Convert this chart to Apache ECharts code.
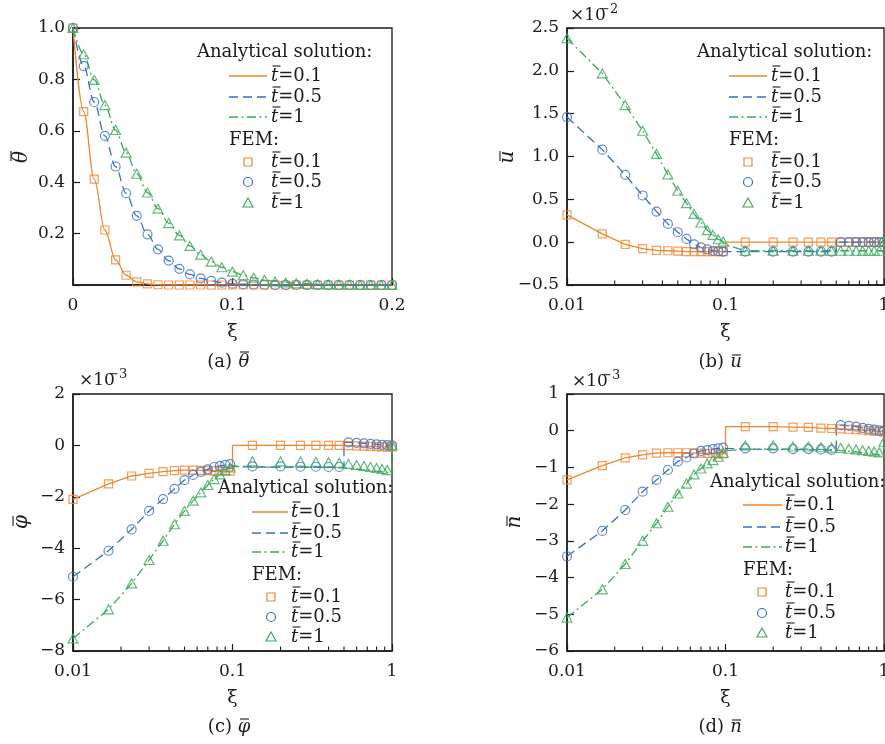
<!DOCTYPE html>
<html>
<head>
<meta charset="utf-8">
<script src="https://cdn.jsdelivr.net/npm/echarts@6/dist/echarts.min.js"></script>
<style>
  html, body { margin: 0; padding: 0; background: #fff; }
  #chart { width: 885px; height: 744px; }
</style>
</head>
<body>
<div id="chart"></div>
<script>
// ---------- (a) temperature theta vs xi (linear axis) ----------
const xiTheta = [0, 0.0067, 0.0133, 0.02, 0.0267, 0.0333, 0.04, 0.0467, 0.0533, 0.06, 0.0667,
  0.0733, 0.08, 0.0867, 0.0933, 0.1, 0.1067, 0.1133, 0.12, 0.1267, 0.1333,
  0.14, 0.1467, 0.1533, 0.16, 0.1667, 0.1733, 0.18, 0.1867, 0.1933, 0.2];
const thetaT01 = [1.0, 0.675, 0.412, 0.214, 0.098, 0.038, 0.012, 0.004, 0.001, 0, 0,
  0, 0, 0, 0, 0, 0, 0, 0, 0, 0,
  0, 0, 0, 0, 0, 0, 0, 0, 0, 0];
const thetaT05 = [1.0, 0.852, 0.712, 0.58, 0.461, 0.357, 0.269, 0.197, 0.139, 0.095, 0.063,
  0.041, 0.026, 0.016, 0.009, 0.005, 0.003, 0.002, 0.001, 0, 0,
  0, 0, 0, 0, 0, 0, 0, 0, 0, 0];
const thetaT1 = [1.0, 0.898, 0.798, 0.70, 0.603, 0.515, 0.433, 0.36, 0.297, 0.241, 0.193,
  0.152, 0.118, 0.091, 0.069, 0.052, 0.038, 0.028, 0.02, 0.014, 0.01,
  0.007, 0.005, 0.003, 0.002, 0.001, 0.001, 0, 0, 0, 0];

// ---------- xi grids for the log-axis panels ----------
const xiFem = [0.01, 0.0167, 0.0233, 0.03, 0.0367, 0.0433, 0.05, 0.0567, 0.0633, 0.07,
  0.0767, 0.0833, 0.09, 0.0967, 0.1333, 0.2, 0.2667, 0.3333, 0.4, 0.4667,
  0.5333, 0.6, 0.6667, 0.7333, 0.8, 0.8667, 0.9333, 1];
// analytical curves: t = 0.1 jumps at xi = 0.1, t = 0.5 at xi = 0.5, t = 1 at xi = 1
const xiLineT01 = [0.01, 0.0167, 0.0233, 0.03, 0.0367, 0.0433, 0.05, 0.0567, 0.0633, 0.07,
  0.0767, 0.0833, 0.09, 0.0967, 0.1, 0.1, 0.1333, 0.2, 0.2667, 0.3333,
  0.4, 0.4667, 0.5333, 0.6, 0.6667, 0.7333, 0.8, 0.8667, 0.9333, 1];
const xiLineT05 = [0.01, 0.0167, 0.0233, 0.03, 0.0367, 0.0433, 0.05, 0.0567, 0.0633, 0.07,
  0.0767, 0.0833, 0.09, 0.0967, 0.1, 0.1333, 0.2, 0.2667, 0.3333, 0.4,
  0.4667, 0.5, 0.5, 0.5333, 0.6, 0.6667, 0.7333, 0.8, 0.8667, 0.9333, 1];
const xiLineT1 = [0.01, 0.0167, 0.0233, 0.03, 0.0367, 0.0433, 0.05, 0.0567, 0.0633, 0.07,
  0.0767, 0.0833, 0.09, 0.0967, 0.1, 0.1333, 0.2, 0.2667, 0.3333, 0.4,
  0.4667, 0.5333, 0.6, 0.6667, 0.7333, 0.8, 0.8667, 0.9333, 1, 1];
const xiMinorTicks = [0.02, 0.03, 0.04, 0.05, 0.06, 0.07, 0.08, 0.09, 0.2, 0.3, 0.4, 0.5, 0.6, 0.7, 0.8, 0.9];

// ---------- (b) displacement u, x10^-2 ----------
const uLineT01 = [0.318, 0.096, -0.025, -0.075, -0.095, -0.10, -0.105, -0.11, -0.11, -0.11,
  -0.11, -0.11, -0.11, -0.11, -0.11, 0, 0, 0, 0, 0,
  0, 0, 0, 0, 0, 0, 0, 0, 0, 0];
const uLineT05 = [1.46, 1.08, 0.785, 0.545, 0.357, 0.213, 0.116, 0.038, -0.025, -0.06,
  -0.083, -0.10, -0.105, -0.11, -0.11, -0.11, -0.11, -0.11, -0.11, -0.11,
  -0.11, -0.11, 0, 0, 0, 0, 0, 0, 0, 0, 0];
const uLineT1 = [2.38, 1.97, 1.60, 1.30, 1.03, 0.79, 0.60, 0.455, 0.33, 0.23,
  0.14, 0.085, 0.034, 0.007, -0.03, -0.10, -0.10, -0.10, -0.10, -0.10,
  -0.10, -0.10, -0.10, -0.10, -0.10, -0.10, -0.10, -0.10, -0.10, 0];
const uFemT01 = [0.318, 0.096, -0.025, -0.075, -0.095, -0.10, -0.105, -0.11, -0.11, -0.11,
  -0.11, -0.11, -0.11, -0.11, 0, 0, 0, 0, 0, 0,
  0, 0, 0, 0, 0, 0, 0, 0];
const uFemT05 = [1.46, 1.08, 0.785, 0.545, 0.357, 0.213, 0.116, 0.038, -0.025, -0.06,
  -0.083, -0.10, -0.105, -0.11, -0.11, -0.11, -0.11, -0.11, -0.11, -0.11,
  0, 0, 0, 0, 0, 0, 0, 0];
const uFemT1 = [2.38, 1.97, 1.60, 1.30, 1.03, 0.79, 0.60, 0.455, 0.33, 0.23,
  0.14, 0.085, 0.034, 0.007, -0.10, -0.10, -0.10, -0.10, -0.10, -0.10,
  -0.10, -0.10, -0.10, -0.10, -0.10, -0.10, -0.10, 0];

// ---------- (c) potential phi, x10^-3 ----------
const phiLineT01 = [-2.10, -1.50, -1.19, -1.09, -1.02, -0.98, -0.96, -0.96, -0.97, -0.98,
  -0.99, -1.0, -1.0, -1.0, -1.0, 0, 0, 0, 0, 0,
  0, 0, -0.01, -0.02, -0.03, -0.04, -0.05, -0.06, -0.06, -0.07];
const phiLineT05 = [-5.11, -4.10, -3.27, -2.55, -2.09, -1.69, -1.35, -1.15, -1.03, -0.93,
  -0.84, -0.80, -0.76, -0.73, -0.80, -0.84, -0.84, -0.84, -0.85, -0.85,
  -0.85, -0.85, 0.12, 0.12, 0.10, 0.08, 0.06, 0.04, 0.02, 0.01, 0.0];
const phiLineT1 = [-7.51, -6.38, -5.37, -4.46, -3.71, -3.07, -2.55, -2.15, -1.83, -1.54,
  -1.31, -1.13, -0.96, -0.86, -0.82, -0.84, -0.85, -0.85, -0.85, -0.86,
  -0.87, -0.89, -0.92, -0.95, -0.97, -1.0, -1.02, -1.04, -1.07, 0];
const phiFemT01 = [-2.10, -1.50, -1.19, -1.09, -1.02, -0.98, -0.96, -0.96, -0.97, -0.98,
  -0.99, -1.0, -1.0, -1.0, 0, 0, 0, 0, 0, 0,
  -0.01, -0.02, -0.03, -0.04, -0.05, -0.06, -0.06, -0.07];
const phiFemT05 = [-5.11, -4.10, -3.27, -2.55, -2.09, -1.69, -1.35, -1.15, -1.03, -0.93,
  -0.84, -0.80, -0.76, -0.73, -0.82, -0.82, -0.83, -0.83, -0.84, -0.84,
  0.12, 0.10, 0.08, 0.06, 0.04, 0.02, 0.01, 0.0];
const phiFemT1 = [-7.51, -6.38, -5.37, -4.46, -3.71, -3.07, -2.55, -2.15, -1.83, -1.54,
  -1.31, -1.13, -0.96, -0.86, -0.62, -0.62, -0.63, -0.64, -0.66, -0.68,
  -0.72, -0.76, -0.80, -0.84, -0.88, -0.92, -0.96, 0];

// ---------- (d) concentration n, x10^-3 ----------
const nLineT01 = [-1.34, -0.95, -0.74, -0.66, -0.61, -0.60, -0.60, -0.60, -0.61, -0.61,
  -0.62, -0.62, -0.63, -0.63, -0.63, 0.11, 0.11, 0.11, 0.10, 0.09,
  0.07, 0.06, 0.05, 0.04, 0.03, 0.02, 0.0, -0.01, -0.02, -0.04];
const nLineT05 = [-3.42, -2.73, -2.16, -1.66, -1.34, -1.07, -0.84, -0.73, -0.62, -0.55,
  -0.53, -0.50, -0.48, -0.46, -0.48, -0.50, -0.51, -0.51, -0.52, -0.52,
  -0.53, -0.53, 0.15, 0.15, 0.13, 0.11, 0.08, 0.05, 0.03, 0.01, 0.0];
const nLineT1 = [-5.09, -4.32, -3.63, -3.0, -2.52, -2.07, -1.71, -1.44, -1.19, -1.03,
  -0.89, -0.80, -0.71, -0.60, -0.55, -0.50, -0.50, -0.50, -0.50, -0.51,
  -0.52, -0.54, -0.56, -0.58, -0.60, -0.62, -0.64, -0.66, -0.68, -0.25];
const nFemT01 = [-1.34, -0.95, -0.74, -0.66, -0.61, -0.60, -0.60, -0.60, -0.61, -0.61,
  -0.62, -0.62, -0.63, -0.63, 0.11, 0.11, 0.10, 0.09, 0.07, 0.06,
  0.05, 0.04, 0.03, 0.02, 0.0, -0.01, -0.02, -0.04];
const nFemT05 = [-3.42, -2.73, -2.16, -1.66, -1.34, -1.07, -0.84, -0.73, -0.62, -0.55,
  -0.53, -0.50, -0.48, -0.46, -0.48, -0.48, -0.50, -0.50, -0.51, -0.52,
  0.15, 0.13, 0.11, 0.08, 0.05, 0.03, 0.01, 0.0];
const nFemT1 = [-5.09, -4.32, -3.63, -3.0, -2.52, -2.07, -1.71, -1.44, -1.19, -1.03,
  -0.89, -0.80, -0.71, -0.60, -0.40, -0.40, -0.43, -0.43, -0.45, -0.46,
  -0.47, -0.49, -0.51, -0.53, -0.55, -0.57, -0.59, -0.30];

const timeLabels = ['0.1', '0.5', '1'];

// ---------- styling ----------
const FONT = 'DejaVu Serif';
const INK = '#1b1b1b';
const ORANGE = '#F2852F';
const BLUE = '#3A6FC4';
const GREEN = '#3DAA5C';
const DASH = [9, 5];
const DASHDOT = [9, 3.5, 2, 3.5];

const chart = echarts.init(document.getElementById('chart'), null, { renderer: 'canvas' });

const pairs = (xs, ys) => xs.map((x, i) => [x, ys[i]]);
const minus = s => String(s).replace('-', '\u2212');

const gridRects = [
  { left: 73, top: 28, width: 319, height: 257 },
  { left: 567, top: 28, width: 317, height: 257 },
  { left: 73, top: 394, width: 319, height: 257 },
  { left: 567, top: 394, width: 317, height: 257 }
];
const yRanges = [[0, 1], [-0.5, 2.5], [-8, 2], [-6, 1]];

const tickFont = { fontFamily: FONT, fontSize: 17, color: INK };

function xAxisMain(g, isLog) {
  const ax = {
    type: isLog ? 'log' : 'value',
    gridIndex: g,
    min: isLog ? 0.01 : 0,
    max: isLog ? 1 : 0.2,
    name: '\u03BE',
    nameLocation: 'middle',
    nameGap: 38,
    nameTextStyle: { fontFamily: FONT, fontSize: 19, color: INK },
    axisLine: { show: true, onZero: false, lineStyle: { color: INK, width: 1.5 } },
    axisTick: { show: true, inside: true, length: 7, lineStyle: { color: INK, width: 1.2 } },
    axisLabel: Object.assign({ margin: 12 }, tickFont),
    splitLine: { show: false }
  };
  if (isLog) ax.logBase = 10; else ax.interval = 0.1;
  return ax;
}

function yAxisCfg(g, interval, fmt) {
  return {
    type: 'value', gridIndex: g, min: yRanges[g][0], max: yRanges[g][1], interval,
    axisLine: { show: true, onZero: false, lineStyle: { color: INK, width: 1.5 } },
    axisTick: { show: true, inside: true, length: 7, lineStyle: { color: INK, width: 1.2 } },
    axisLabel: Object.assign({ margin: 8, formatter: fmt }, tickFont),
    splitLine: { show: false }
  };
}

function lineS(xi, yi, xs, ys, color, dash, smooth) {
  return {
    type: 'line', xAxisIndex: xi, yAxisIndex: yi, data: pairs(xs, ys),
    symbol: 'none', smooth: smooth ? 0.35 : false, smoothMonotone: smooth ? 'x' : undefined,
    lineStyle: { color, width: 1.3, type: dash }, silent: true, z: 2
  };
}

function femS(xi, yi, xs, ys, color, symbol, size) {
  return {
    type: 'scatter', xAxisIndex: xi, yAxisIndex: yi, data: pairs(xs, ys),
    symbol, symbolSize: size,
    itemStyle: { color: 'rgba(255,255,255,0)', borderColor: color, borderWidth: 1.2 },
    silent: true, z: 3
  };
}

const SQ = 8, CI = 9, TR = [10, 9];

const series = [
  // (a)
  lineS(0, 0, xiTheta, thetaT01, ORANGE, 'solid', true),
  lineS(0, 0, xiTheta, thetaT05, BLUE, DASH, true),
  lineS(0, 0, xiTheta, thetaT1, GREEN, DASHDOT, true),
  femS(0, 0, xiTheta, thetaT01, ORANGE, 'rect', SQ),
  femS(0, 0, xiTheta, thetaT05, BLUE, 'circle', CI),
  femS(0, 0, xiTheta, thetaT1, GREEN, 'triangle', TR),
  // (b)
  lineS(1, 1, xiLineT01, uLineT01, ORANGE, 'solid'),
  lineS(1, 1, xiLineT05, uLineT05, BLUE, DASH),
  lineS(1, 1, xiLineT1, uLineT1, GREEN, DASHDOT),
  femS(1, 1, xiFem, uFemT01, ORANGE, 'rect', SQ),
  femS(1, 1, xiFem, uFemT05, BLUE, 'circle', CI),
  femS(1, 1, xiFem, uFemT1, GREEN, 'triangle', TR),
  // (c)
  lineS(2, 2, xiLineT01, phiLineT01, ORANGE, 'solid'),
  lineS(2, 2, xiLineT05, phiLineT05, BLUE, DASH),
  lineS(2, 2, xiLineT1, phiLineT1, GREEN, DASHDOT),
  femS(2, 2, xiFem, phiFemT01, ORANGE, 'rect', SQ),
  femS(2, 2, xiFem, phiFemT05, BLUE, 'circle', CI),
  femS(2, 2, xiFem, phiFemT1, GREEN, 'triangle', TR),
  // (d)
  lineS(3, 3, xiLineT01, nLineT01, ORANGE, 'solid'),
  lineS(3, 3, xiLineT05, nLineT05, BLUE, DASH),
  lineS(3, 3, xiLineT1, nLineT1, GREEN, DASHDOT),
  femS(3, 3, xiFem, nFemT01, ORANGE, 'rect', SQ),
  femS(3, 3, xiFem, nFemT05, BLUE, 'circle', CI),
  femS(3, 3, xiFem, nFemT1, GREEN, 'triangle', TR)
];

// ---------- text helpers: italic symbols with an overbar ----------
const textStyle = (size, extra) => Object.assign({ fontFamily: FONT, fontSize: size, fill: INK }, extra || {});

// italic glyph centred at (0,0) with a bar drawn above it
function barredSymbol(ch, size, barY, barX1, barX2) {
  return [
    { type: 'text', x: 0, y: 0, silent: true,
      style: textStyle(size, { text: ch, fontStyle: 'italic', align: 'center', verticalAlign: 'middle' }) },
    { type: 'line', silent: true, shape: { x1: barX1, y1: barY, x2: barX2, y2: barY },
      style: { stroke: INK, lineWidth: 1.1 } }
  ];
}

// rotated y-axis title (reads bottom to top)
function yTitle(cx, cy, ch, barY) {
  return { type: 'group', x: cx, y: cy, rotation: Math.PI / 2, silent: true,
    children: barredSymbol(ch, 20, barY, -4, 6) };
}

function tLabel(x, y, val) {
  return { type: 'group', x, y, silent: true, children: [
    { type: 'text', x: 0, y: 0, silent: true,
      style: {
        text: '{t|t}{v|=' + val + '}', verticalAlign: 'middle', align: 'left',
        rich: {
          t: { fontFamily: FONT, fontSize: 18, fontStyle: 'italic', fill: INK },
          v: { fontFamily: FONT, fontSize: 18, fill: INK }
        }
      } },
    { type: 'line', silent: true, shape: { x1: 1.5, y1: -10, x2: 9.5, y2: -10 },
      style: { stroke: INK, lineWidth: 1.1 } }
  ] };
}

function legendBlock(L) {
  const els = [];
  els.push({ type: 'text', x: L.hx, y: L.hy, silent: true,
    style: textStyle(18, { text: 'Analytical solution:', verticalAlign: 'middle' }) });
  const colors = [ORANGE, BLUE, GREEN];
  const dashes = [null, DASH, DASHDOT];
  L.rows.forEach((y, i) => {
    els.push({ type: 'line', silent: true,
      shape: { x1: L.lx1, y1: y, x2: L.lx2, y2: y },
      style: { stroke: colors[i], lineWidth: 1.3, lineDash: dashes[i] } });
    els.push(tLabel(L.tx, y, timeLabels[i]));
  });
  els.push({ type: 'text', x: L.lx1, y: L.fy, silent: true,
    style: textStyle(18, { text: 'FEM:', verticalAlign: 'middle' }) });
  const [y1, y2, y3] = L.mrows, mx = L.mx;
  els.push({ type: 'rect', silent: true, shape: { x: mx - 4, y: y1 - 4, width: 8, height: 8 },
    style: { fill: 'none', stroke: ORANGE, lineWidth: 1.2 } });
  els.push({ type: 'circle', silent: true, shape: { cx: mx, cy: y2, r: 4.5 },
    style: { fill: 'none', stroke: BLUE, lineWidth: 1.2 } });
  els.push({ type: 'polygon', silent: true,
    shape: { points: [[mx, y3 - 5], [mx + 5, y3 + 4], [mx - 5, y3 + 4]] },
    style: { fill: 'none', stroke: GREEN, lineWidth: 1.2 } });
  L.mrows.forEach((y, i) => els.push(tLabel(L.tx, y, timeLabels[i])));
  return els;
}

function multiplier(x, y, exp) {
  return [
    { type: 'text', x, y, silent: true,
      style: textStyle(17, { text: '\u00D710', verticalAlign: 'middle' }) },
    { type: 'text', x: x + 29, y: y - 6, silent: true,
      style: textStyle(13, { text: '\u2212' + exp, verticalAlign: 'middle' }) }
  ];
}

function caption(cx, cy, tag, ch, barY) {
  return { type: 'group', x: cx, y: cy, silent: true, children: [
    { type: 'text', x: -4, y: 0, silent: true,
      style: textStyle(18, { text: '(' + tag + ')', align: 'right', verticalAlign: 'middle' }) },
    { type: 'group', x: 8, y: 0, children: barredSymbol(ch, 18, barY, -4, 5) }
  ] };
}

const graphics = [].concat(
  legendBlock({ hx: 197, hy: 52, lx1: 229, lx2: 267, tx: 271, rows: [76, 97, 117], fy: 140, mx: 248, mrows: [162, 182, 203] }),
  legendBlock({ hx: 697, hy: 52, lx1: 729, lx2: 767, tx: 771, rows: [76, 97, 117], fy: 140, mx: 748, mrows: [162, 182, 203] }),
  legendBlock({ hx: 218, hy: 488, lx1: 252, lx2: 288, tx: 291, rows: [512, 533, 552], fy: 575, mx: 271, mrows: [597, 617, 637] }),
  legendBlock({ hx: 710, hy: 482, lx1: 743, lx2: 782, tx: 785, rows: [505, 527, 547], fy: 570, mx: 762, mrows: [592, 613, 633] }),
  multiplier(570, 16, '2'),
  multiplier(79, 381, '3'),
  multiplier(572, 382, '3'),
  [
    yTitle(22, 157, '\u03B8', -11),
    yTitle(508, 157, 'u', -8),
    yTitle(22, 522, '\u03C6', -9),
    yTitle(515, 522, 'n', -8),
    caption(236, 362, 'a', '\u03B8', -10),
    caption(728, 362, 'b', 'u', -7),
    caption(236, 727, 'c', '\u03C6', -8),
    caption(728, 727, 'd', 'n', -7)
  ]
);

const option = {
  animation: false,
  backgroundColor: '#fff',
  grid: gridRects.map(r => Object.assign({
    show: true, borderColor: INK, borderWidth: 1.3, backgroundColor: 'rgba(0,0,0,0)',
    containLabel: false, outerBoundsMode: 'none'
  }, r)),
  xAxis: [
    xAxisMain(0, false),
    xAxisMain(1, true),
    xAxisMain(2, true),
    xAxisMain(3, true)
  ],
  yAxis: [
    yAxisCfg(0, 0.2, v => (v === 0 ? '' : v.toFixed(1))),
    yAxisCfg(1, 0.5, v => minus(v.toFixed(1))),
    yAxisCfg(2, 2, v => minus(v)),
    yAxisCfg(3, 1, v => minus(v))
  ],
  series
};

chart.setOption(option);

// short inward minor ticks along the bottom of each log axis, positioned through the axis scale
const minorTickEls = [];
[1, 2, 3].forEach(g => {
  xiMinorTicks.forEach(v => {
    const p = chart.convertToPixel({ gridIndex: g }, [v, yRanges[g][0]]);
    if (p && isFinite(p[0]) && isFinite(p[1])) {
      minorTickEls.push({ type: 'line', silent: true, z: 10,
        shape: { x1: p[0], y1: p[1], x2: p[0], y2: p[1] - 4.5 },
        style: { stroke: INK, lineWidth: 1.1 } });
    }
  });
});

chart.setOption({ graphic: { elements: graphics.concat(minorTickEls) } });
</script>
</body>
</html>
